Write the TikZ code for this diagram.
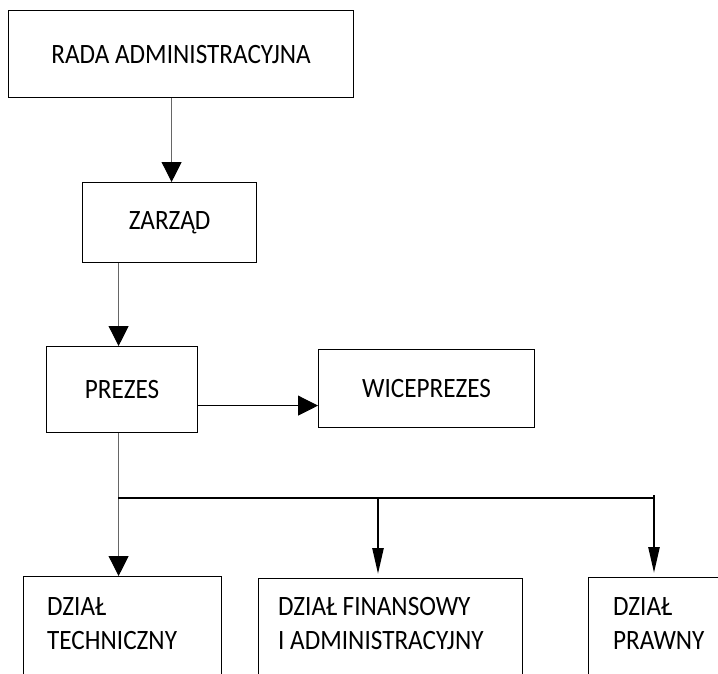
\documentclass[tikz,border=0pt]{standalone}
\usepackage{fontspec}
\setmainfont[FakeStretch=0.9]{Carlito}
\usetikzlibrary{arrows.meta}
\definecolor{linkgray}{gray}{0.4}
\begin{document}
\begin{tikzpicture}[x=1pt, y=-1pt,
   box/.style={draw, line width=1.2pt, anchor=north west, inner sep=0pt,
      font=\fontsize{28}{34}\selectfont},
   deptxt/.style={anchor=north west, inner sep=0pt, align=left,
      font=\fontsize{28}{34}\selectfont},
   link/.style={draw=linkgray, line width=1pt,
      -{Triangle[width=20pt, length=20pt, color=black]}},
   branch/.style={draw=black, line width=2.5pt, shorten >=4pt,
      -{Triangle[width=11pt, length=26pt]}}]
   \clip (0,0) rectangle (718,673);
   % boxes
   \node[box, minimum width=345pt, minimum height=87pt] (rada) at (8,10) {RADA ADMINISTRACYJNA};
   \node[box, minimum width=174pt, minimum height=80pt] (zarzad) at (82,182) {ZARZĄD};
   \node[box, minimum width=151pt, minimum height=86pt] (prezes) at (46,346) {PREZES};
   \node[box, minimum width=216pt, minimum height=78pt] (wice) at (318,349) {WICEPREZES};
   \node[box, minimum width=198pt, minimum height=130pt] (tech) at (23,576) {};
   \node[box, minimum width=264pt, minimum height=130pt] (finans) at (258,578) {};
   \node[box, minimum width=200pt, minimum height=130pt] (prawny) at (588,577) {};
   \node[deptxt] (techtxt) at (47,597) {DZIAŁ\\TECHNICZNY};
   \node[deptxt] (finanstxt) at (278,597) {DZIAŁ FINANSOWY\\I ADMINISTRACYJNY};
   \node[deptxt] (prawnytxt) at (613,597) {DZIAŁ\\PRAWNY};
   % connectors
   \draw[link] ([xshift=2pt]zarzad.north |- rada.south) -- ([xshift=2pt]zarzad.north);
   \draw[link] ([xshift=-3.5pt]prezes.north |- zarzad.south) -- ([xshift=-3.5pt]prezes.north);
   \coordinate (pw) at ([yshift=-16pt]prezes.east);
   \draw[link, draw=black] (pw) -- (pw -| wice.west);
   \draw[link] ([xshift=-3.5pt]prezes.south) -- ([xshift=-3.5pt]prezes.south |- tech.north);
   \coordinate (tapT) at (118,498);
   \coordinate (tapF) at (378,498);
   \coordinate (tapP) at (654,495);
   \draw[black, line width=1.5pt] (tapT) -- (tapP |- tapT);
   \draw[branch] (tapF) -- (tapF |- finans.north);
   \draw[branch] (tapP) -- (tapP |- prawny.north);
\end{tikzpicture}
\end{document}
